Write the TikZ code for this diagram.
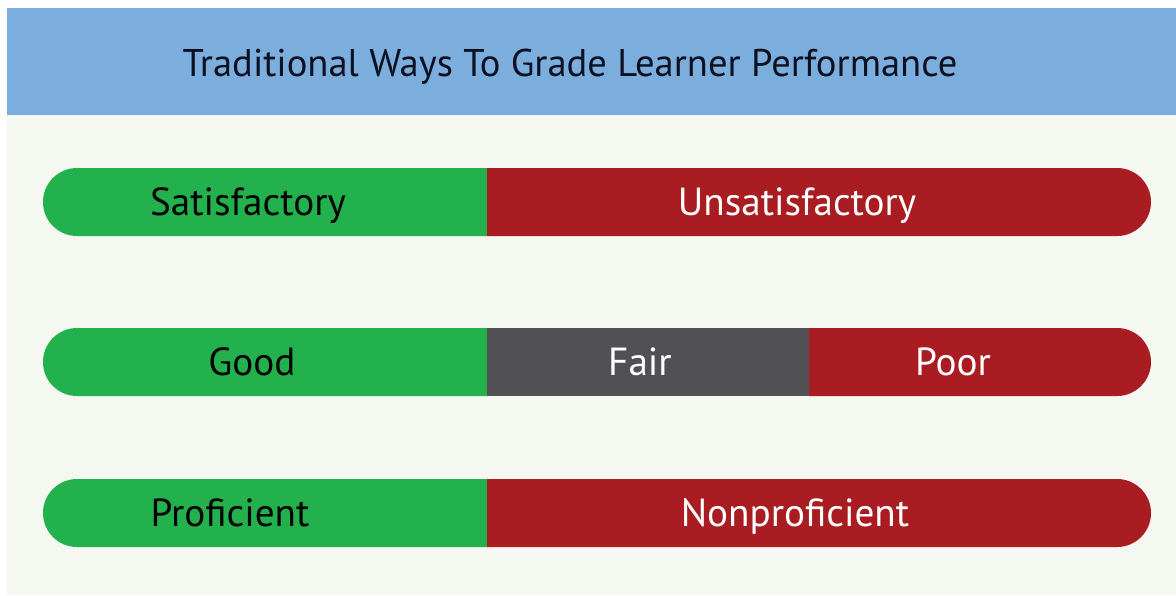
\documentclass[tikz,border=0pt]{standalone}
\usepackage{fontspec}
\setmainfont{PT Sans}
\usepackage{tikz}
\usetikzlibrary{positioning, calc}

\definecolor{hdrblue}{RGB}{123,174,221}
\definecolor{pagebg}{RGB}{245,248,240}
\definecolor{okgreen}{RGB}{34,177,76}
\definecolor{badred}{RGB}{169,28,33}
\definecolor{midgray}{RGB}{81,80,84}
\definecolor{titleink}{RGB}{12,16,32}

\begin{document}
\begin{tikzpicture}[x=0.5pt, y=-0.5pt,
    barlabel/.style={font=\fontsize{19.6}{24}\selectfont, anchor=base, inner sep=0pt},
    darklabel/.style={barlabel, text=black},
    lightlabel/.style={barlabel, text=white}]
    \useasboundingbox (0,0) rectangle (1176,595);
    % page and header band
    \fill[white] (0,0) rectangle (1176,595);
    \fill[pagebg] (7,115) rectangle (1176,595);
    \fill[hdrblue] (7,8) rectangle (1176,115);
    \node[barlabel, font=\fontsize{19.3}{24}\selectfont, text=titleink] (title) at (570,76) {Traditional Ways To Grade Learner Performance};

    % row 1
    \fill[okgreen] (487,168) [rounded corners=17pt] -- (43,168) -- (43,236) [sharp corners] -- (487,236) -- cycle;
    \fill[badred] (487,168) [rounded corners=17pt] -- (1151,168) -- (1151,236) [sharp corners] -- (487,236) -- cycle;
    \node[darklabel] (satis) at (248,215) {Satisfactory};
    \node[lightlabel] (unsatis) at (797,215) {Unsatisfactory};

    % row 2
    \fill[okgreen] (487,328) [rounded corners=17pt] -- (43,328) -- (43,396) [sharp corners] -- (487,396) -- cycle;
    \fill[midgray] (487,328) rectangle (809,396);
    \fill[badred] (809,328) [rounded corners=17pt] -- (1151,328) -- (1151,396) [sharp corners] -- (809,396) -- cycle;
    \node[darklabel] (good) at (252,375) {Good};
    \node[lightlabel] (fair) at (640,375) {Fair};
    \node[lightlabel] (poor) at (953,375) {Poor};

    % row 3
    \fill[okgreen] (487,479) [rounded corners=17pt] -- (43,479) -- (43,547) [sharp corners] -- (487,547) -- cycle;
    \fill[badred] (487,479) [rounded corners=17pt] -- (1151,479) -- (1151,547) [sharp corners] -- (487,547) -- cycle;
    \node[darklabel] (profi) at (230,526) {Proficient};
    \node[lightlabel] (nonprofi) at (795,526) {Nonproficient};
\end{tikzpicture}
\end{document}
